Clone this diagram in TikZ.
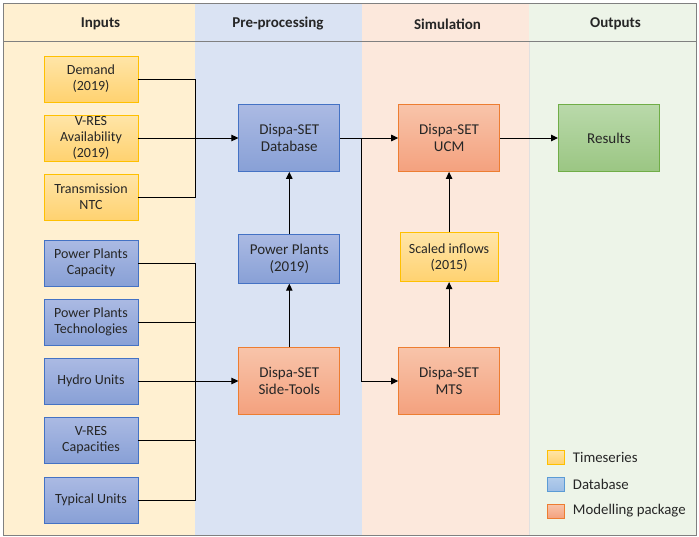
\documentclass[tikz,border=0pt]{standalone}
\usepackage{fontspec}
\setmainfont{Carlito}
\usetikzlibrary{arrows.meta,positioning}

\definecolor{inbg}{HTML}{FFF0D1}
\definecolor{prebg}{HTML}{DAE3F3}
\definecolor{simbg}{HTML}{FCE8DC}
\definecolor{outbg}{HTML}{EDF4E8}
\definecolor{tsline}{HTML}{FFC000}
\definecolor{tstop}{HTML}{FFE5A8}
\definecolor{tsbot}{HTML}{FFD270}
\definecolor{dbline}{HTML}{4472C4}
\definecolor{dbtop}{HTML}{ABBAE3}
\definecolor{dbbot}{HTML}{88A0D6}
\definecolor{mpline}{HTML}{ED7D31}
\definecolor{mptop}{HTML}{F8C4AA}
\definecolor{mpbot}{HTML}{F4A17E}
\definecolor{resline}{HTML}{70AD47}
\definecolor{restop}{HTML}{B9D9AA}
\definecolor{resbot}{HTML}{9BC683}
\definecolor{lgline}{HTML}{5B9BD5}
\definecolor{lgtop}{HTML}{B4CDEB}
\definecolor{lgbot}{HTML}{9DBDE5}
\definecolor{frame}{HTML}{808080}

\begin{document}
\begin{tikzpicture}[x=1pt,y=1pt,>={Triangle[length=7pt,width=6.5pt]},
                    node distance=12.2pt,line width=1pt,align=center,
                    font=\fontsize{14}{16}\selectfont]
  \tikzstyle{box}=[draw,line width=0.8pt,inner sep=0pt,minimum width=94pt,minimum height=46pt,text=black!85]
  \tikzstyle{tsbox}=[box,draw=tsline,top color=tstop,bottom color=tsbot]
  \tikzstyle{dbbox}=[box,draw=dbline,top color=dbtop,bottom color=dbbot]
  \tikzstyle{mpbox}=[box,draw=mpline,top color=mptop,bottom color=mpbot]
  \tikzstyle{big}=[minimum width=101pt,minimum height=67pt,font=\fontsize{15}{17}\selectfont]
  \tikzstyle{head}=[font=\bfseries\fontsize{15}{17}\selectfont,text=black!85]
  \tikzstyle{swatch}=[draw,line width=0.8pt,minimum width=17pt,minimum height=14pt,inner sep=0pt]
  \tikzstyle{lgtext}=[inner sep=0pt,font=\fontsize{14.8}{17}\selectfont,text=black!85]

  \useasboundingbox (0,0) rectangle (699,-536);
  % lanes
  \fill[inbg]  (3,-3)   rectangle (195,-535);
  \fill[prebg] (195,-3) rectangle (362,-535);
  \fill[simbg] (362,-3) rectangle (529,-535);
  \fill[outbg] (529,-3) rectangle (696,-535);
  \draw[black!12,line width=0.8pt] (529,-41) -- (529,-535);
  \draw[frame,line width=1pt] (3,-41) -- (696,-41);
  \draw[frame,line width=1pt] (3,-3) rectangle (696,-535);

  \node[head] (hIn)  at (100.5,-24) {Inputs};
  \node[head] (hPre) at (278,-24)   {Pre-processing};
  \node[head] (hSim) at (447.5,-24) {Simulation};
  \node[head] (hOut) at (615.5,-24) {Outputs};

  % inputs
  \node[tsbox] (Demand) at (91,-79) {Demand\\(2019)};
  \node[tsbox] (VresAv) [below=of Demand] {V-RES\\Availability\\(2019)};
  \node[tsbox] (NTC) [below=of VresAv] {Transmission\\NTC};
  \node[dbbox] (PPCap) [below=19.2pt of NTC] {Power Plants\\Capacity};
  \node[dbbox] (PPTech) [below=of PPCap] {Power Plants\\Technologies};
  \node[dbbox] (Hydro) [below=of PPTech] {Hydro Units};
  \node[dbbox] (VresCap) [below=of Hydro] {V-RES\\Capacities};
  \node[dbbox] (Typical) [below=13.2pt of VresCap] {Typical Units};

  % pre-processing and simulation
  \node[dbbox,big] (DB) [right=100pt of VresAv] {Dispa-SET\\Database};
  \node[dbbox,big,minimum height=49pt] (PP2019) [below=62pt of DB] {Power Plants\\(2019)};
  \node[mpbox,big] (SideTools) [right=100pt of Hydro] {Dispa-SET\\Side-Tools};
  \node[mpbox,big] (UCM) [right=58pt of DB] {Dispa-SET\\UCM};
  \node[mpbox,big] (MTS) [right=58pt of SideTools] {Dispa-SET\\MTS};
  \node[tsbox,minimum width=98pt,minimum height=49pt] (Scaled) [above=65pt of MTS] {Scaled inflows\\(2015)};
  \node[box,big,draw=resline,top color=restop,bottom color=resbot] (Results) [right=58pt of UCM] {Results};

  % legend
  \node[swatch,draw=tsline,top color=tstop,bottom color=tsbot] (lgTs) at (555.5,-457) {};
  \node[swatch,draw=lgline,top color=lgtop,bottom color=lgbot] (lgDb) [below=of lgTs] {};
  \node[swatch,draw=mpline,top color=mptop,bottom color=mpbot] (lgMp) [below=of lgDb] {};
  \node[lgtext] (lgTsText) [right=8pt of lgTs] {Timeseries};
  \node[lgtext] (lgDbText) [right=8pt of lgDb] {Database};
  \node[lgtext] (lgMpText) [right=8pt of lgMp] {Modelling package};

  % connectors
  \coordinate (busA) at (195,0);
  \coordinate (busB) at (361,0);
  \draw (Demand.east) -- (busA |- Demand.east) -- (busA |- NTC.east) -- (NTC.east);
  \draw[->] (VresAv.east) -- (DB.west);
  \draw (PPCap.east) -- (busA |- PPCap.east) -- (busA |- Typical.east) -- (Typical.east);
  \foreach \n in {PPTech,VresCap}
    \draw (\n.east) -- (busA |- \n.east);
  \draw[->] (Hydro.east) -- (SideTools.west);
  \draw[->] (SideTools) -- (PP2019);
  \draw[->] (PP2019) -- (DB);
  \draw[->] (DB) -- (UCM);
  \draw[->] (busB |- DB.east) |- (MTS.west);
  \draw[->] (MTS) -- (Scaled);
  \draw[->] (Scaled) -- (UCM);
  \draw[->] (UCM) -- (Results);
\end{tikzpicture}
\end{document}
